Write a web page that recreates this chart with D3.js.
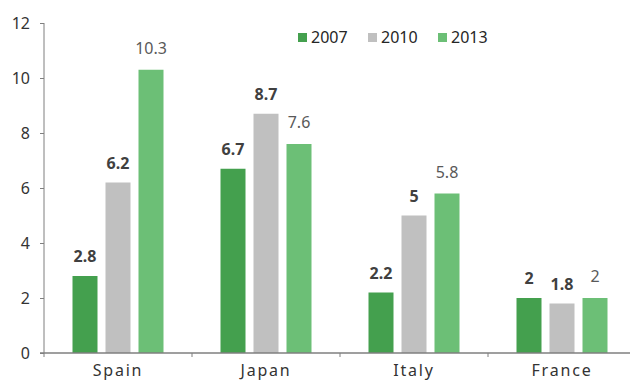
<!DOCTYPE html>
<html>
<head>
<meta charset="utf-8">
<script src="https://cdn.jsdelivr.net/npm/d3@7"></script>
<style>
  body { margin: 0; background: #fff; }
  text { font-family: "Noto Sans", "Open Sans", sans-serif; }
</style>
</head>
<body>
<svg id="chart" width="630" height="383"></svg>
<script>
// data
const countries = ["Spain", "Japan", "Italy", "France"]
const years = ["2007", "2010", "2013"]
const v2007 = [2.8, 6.7, 2.2, 2]
const v2010 = [6.2, 8.7, 5, 1.8]
const v2013 = [10.3, 7.6, 5.8, 2]
const yTicks = [0, 2, 4, 6, 8, 10, 12]

const colors = { "2007": "#44a04e", "2010": "#c0c0c0", "2013": "#6cbf76" }
const series = { "2007": v2007, "2010": v2010, "2013": v2013 }

const svg = d3.select("#chart")

const x = d3.scaleBand().domain(countries).range([44, 636])
const y = d3.scaleLinear().domain([0, 12]).range([353, 23])

// one row per bar
const rows = []
countries.forEach((c, i) => {
    years.forEach(yr => rows.push({ country: c, year: yr, value: series[yr][i] }))
})

const bw = 25, step = 33
const barCenter = d => x(d.country) + x.bandwidth() / 2 + (years.indexOf(d.year) - 1) * step

svg.append("g").selectAll("rect")
    .data(rows)
    .join("rect")
    .attr("x", d => barCenter(d) - bw / 2)
    .attr("y", d => y(d.value))
    .attr("width", bw)
    .attr("height", d => y(0) - y(d.value))
    .attr("fill", d => colors[d.year])

// value labels (2013 in plain weight)
svg.append("g").selectAll("text")
    .data(rows)
    .join("text")
    .attr("x", barCenter)
    .attr("y", d => y(d.value) - (d.year == "2013" ? 16 : 14))
    .attr("text-anchor", "middle")
    .attr("font-size", 16)
    .attr("font-weight", d => d.year == "2013" ? "normal" : "bold")
    .attr("fill", d => d.year == "2013" ? "#595959" : "#404040")
    .text(d => d.value)

// y axis
const yAxis = svg.append("g")
    .attr("transform", "translate(44,0)")
    .call(d3.axisLeft(y).tickValues(yTicks).tickSize(4).tickPadding(10))
yAxis.select(".domain").attr("stroke", "#7f7f7f").attr("d", "M0,23V357")
yAxis.selectAll(".tick line").attr("stroke", "#7f7f7f")
yAxis.selectAll("text").attr("font-size", 16).attr("fill", "#333").attr("font-family", "Noto Sans, sans-serif")

// x axis
const xAxis = svg.append("g")
    .attr("transform", "translate(0,353)")
    .call(d3.axisBottom(x).tickSize(0).tickPadding(12))
xAxis.select(".domain").attr("stroke", "#7f7f7f").attr("stroke-width", 1.5).attr("d", "M40,0H630")
xAxis.selectAll("text")
    .attr("font-size", 16)
    .attr("letter-spacing", 1.8)
    .attr("fill", "#333")
    .attr("font-family", "Noto Sans, sans-serif")

// small ticks between categories
svg.append("g").selectAll("line")
    .data(countries.slice(1))
    .join("line")
    .attr("x1", d => x(d)).attr("x2", d => x(d))
    .attr("y1", 353).attr("y2", 357)
    .attr("stroke", "#7f7f7f")

// legend
const legendX = [298, 368, 438]
const legend = svg.append("g").selectAll("g")
    .data(years)
    .join("g")
    .attr("transform", (d, i) => `translate(${legendX[i]},33)`)
legend.append("rect").attr("width", 9).attr("height", 9).attr("fill", d => colors[d])
legend.append("text")
    .attr("x", 13).attr("y", 9.5)
    .attr("font-size", 16)
    .attr("fill", "#262626")
    .text(d => d)
</script>
</body>
</html>
